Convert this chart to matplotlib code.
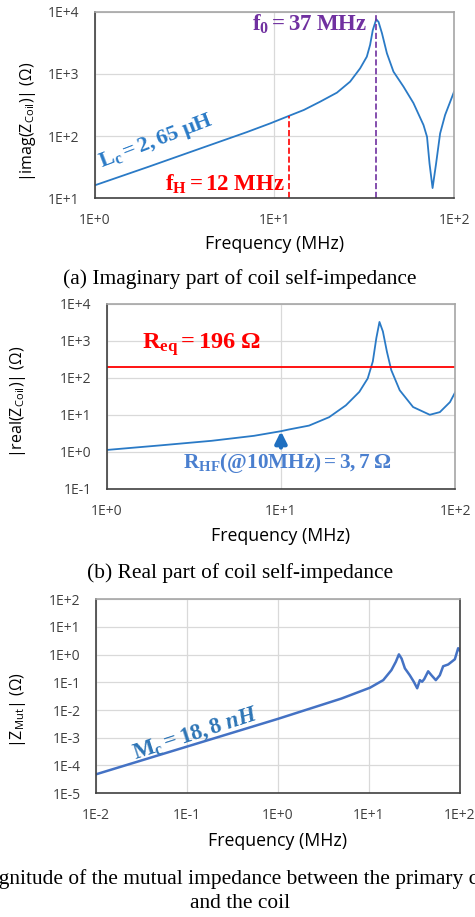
import numpy as np
import matplotlib.pyplot as plt
from matplotlib.ticker import FixedLocator, NullLocator

plt.rcParams['font.family'] = ['Open Sans', 'DejaVu Sans']
plt.rcParams['mathtext.fontset'] = 'custom'
plt.rcParams['mathtext.rm'] = 'Liberation Serif'
plt.rcParams['mathtext.it'] = 'Liberation Serif:italic'
plt.rcParams['mathtext.bf'] = 'Liberation Serif:bold'
plt.rcParams['mathtext.bfit'] = 'Liberation Serif:italic:bold'

# (a) imaginary part of coil self-impedance
freq_a = [1, 2, 4, 7, 9.5, 12, 14.6, 18, 22.3, 26.4, 30, 32.7, 34.1, 35.3, 36.9, 38, 39.7,
          42.3, 46, 52.3, 59.4, 67.6, 70.7, 73, 75.9, 79.4, 83.6, 89.1, 100]
imag_a = [16, 32, 65, 115, 160, 210, 263, 358, 500, 752, 1230, 1900, 2940, 5100, 7600, 6900,
          4530, 2150, 1090, 625, 340, 150, 97, 36, 14.5, 36, 110, 218, 520]
f_h = 12
f_0 = 37

# (b) real part of coil self-impedance
freq_b = [1, 2, 4, 7, 10, 11.1, 14.5, 18.9, 23.6, 28.2, 31.5, 33.7, 35.3, 36.8, 38.5, 40.6,
          43, 48.1, 57.4, 71.6, 81.8, 93.5, 100]
real_b = [1.12, 1.48, 1.98, 2.7, 3.6, 4.0, 5.1, 8.6, 18, 41.7, 96, 276, 1180, 3230, 1790, 510,
          162, 46, 16.2, 10, 11.8, 22, 40]
r_eq = 196
f_hf = 10

# (c) mutual impedance
freq_c = [0.01, 0.1, 1, 5, 10.3, 14.4, 17.7, 19.8, 21.4, 22.9, 24.9, 28.2, 31.2, 34, 36.4,
          38.5, 40.6, 44.9, 48.8, 54.5, 60.3, 65.6, 74.5, 88.2, 95.9, 100]
zmut_c = [4.8e-5, 4.8e-4, 4.8e-3, 0.026, 0.064, 0.12, 0.275, 0.55, 1.02, 0.72, 0.32, 0.18,
          0.105, 0.061, 0.12, 0.105, 0.13, 0.25, 0.18, 0.12, 0.18, 0.38, 0.44, 0.68, 1.7, 1.4]


def dec_label(e):
    return f"1E{int(e):+d}"


def style_axes(ax, xdec, ydec, right_dark=False):
    ax.set_xscale('log')
    ax.set_yscale('log')
    ax.set_xlim(10.0 ** xdec[0], 10.0 ** xdec[-1])
    ax.set_ylim(10.0 ** ydec[0], 10.0 ** ydec[-1])
    ax.xaxis.set_major_locator(FixedLocator([10.0 ** e for e in xdec]))
    ax.yaxis.set_major_locator(FixedLocator([10.0 ** e for e in ydec]))
    ax.xaxis.set_minor_locator(NullLocator())
    ax.yaxis.set_minor_locator(NullLocator())
    ax.set_xticklabels([dec_label(e) for e in xdec])
    ax.set_yticklabels([dec_label(e) for e in ydec])
    ax.tick_params(length=0, labelsize=10, colors='#404040', pad=11)
    ax.grid(True, color='#d9d9d9', lw=0.9)
    ax.set_axisbelow(True)
    for s in ['left', 'bottom']:
        ax.spines[s].set_color('#404040')
        ax.spines[s].set_linewidth(1.2)
    for s in ['top', 'right']:
        ax.spines[s].set_color('#a6a6a6')
        ax.spines[s].set_linewidth(1.2)
    if right_dark:
        ax.spines['right'].set_color('#404040')
    ax.set_xlabel('Frequency (MHz)', fontsize=12.8)


fig = plt.figure(figsize=(4.75, 9.17), dpi=100)
blue = '#2a7ac6'
serif = 'Liberation Serif'

# ---- (a)
ax1 = fig.add_axes([0.199, 0.784, 0.757, 0.203])
ax1.plot(freq_a, imag_a, color=blue, lw=1.3)
style_axes(ax1, [0, 1, 2], [1, 2, 3, 4])
top_h = 10 ** np.interp(np.log10(f_h), np.log10(freq_a), np.log10(imag_a))
ax1.plot([f_h, f_h], [10, top_h], color='#ff0000', ls='--', lw=1.2)
ax1.plot([f_0, f_0], [10, 1e4], color='#7030a0', ls='--', lw=1.2)
ax1.text(11.4, 16.5, r'$\mathbf{f_H = 12\ MHz}$', color='#ff0000', fontsize=16.5,
         ha='right', va='center')
ax1.text(33, 6200, r'$\mathbf{f_0 = 37\ MHz}$', color='#7030a0', fontsize=16.5,
         ha='right', va='center')
ax1.text(2.2, 82, r'$\mathbf{L_c = 2,65\ \mu H}$', color=blue, fontsize=16,
         ha='center', va='center', rotation=21)
ax1.set_ylabel(r'|imag(Z$\mathregular{_{Coil}}$)| (Ω)', fontsize=11.5)
ax1.yaxis.set_label_coords(-0.157, 0.41)
ax1.xaxis.set_label_coords(0.5, -0.2)

# ---- (b)
ax2 = fig.add_axes([0.225, 0.467, 0.733, 0.2017])
ax2.plot(freq_b, real_b, color=blue, lw=1.3)
style_axes(ax2, [0, 1, 2], [-1, 0, 1, 2, 3, 4])
ax2.axhline(r_eq, color='#ff0000', lw=1.3)
ax2.text(1.6, 780, r'$\mathbf{R_{eq} = 196\ Ω}$', color='#ff0000', fontsize=17.5,
         ha='left', va='center')
hf_val = 10 ** np.interp(np.log10(f_hf), np.log10(freq_b), np.log10(real_b))
ax2.annotate('', xy=(f_hf, hf_val), xytext=(f_hf, 1.3),
             arrowprops=dict(arrowstyle='-|>', color='#1f6fc0', lw=3, mutation_scale=17,
                             shrinkA=0, shrinkB=0))
ax2.text(2.75, 0.5, r'$\mathbf{R_{HF}(@10MHz) = 3,7\ Ω}$', color='#4a7fcf', fontsize=15.3,
         ha='left', va='center')
ax2.set_ylabel(r'|real(Z$\mathregular{_{Coil}}$)| (Ω)', fontsize=11.5)
ax2.yaxis.set_label_coords(-0.227, 0.47)
ax2.xaxis.set_label_coords(0.5, -0.205)

# ---- (c)
ax3 = fig.add_axes([0.202, 0.135, 0.766, 0.2116])
ax3.plot(freq_c, zmut_c, color='#4472c4', lw=1.8)
style_axes(ax3, [-2, -1, 0, 1, 2], [-5, -4, -3, -2, -1, 0, 1, 2], right_dark=True)
ax3.text(0.125, 1.4e-3, r'$\mathbf{M_c = 18,8}\ \mathbfit{nH}$', color='#2e75b6',
         fontsize=16.5, ha='center', va='center', rotation=18)
ax3.set_ylabel(r'|Z$\mathregular{_{Mut}}$| (Ω)', fontsize=11.5)
ax3.yaxis.set_label_coords(-0.187, 0.43)
ax3.xaxis.set_label_coords(0.5, -0.2)

# captions
cap = dict(family=serif, fontsize=15.4, ha='center', va='center')
fig.text(0.505, 1 - 279 / 917, '(a) Imaginary part of coil self-impedance', **cap)
fig.text(0.505, 1 - 573 / 917, '(b) Real part of coil self-impedance', **cap)
fig.text(0.465, 1 - 879 / 917, '(c) Magnitude of the mutual impedance between the primary coil',
         **cap)
fig.text(0.505, 1 - 904 / 917, 'and the coil', **cap)

fig.savefig('out.png', dpi=100)
